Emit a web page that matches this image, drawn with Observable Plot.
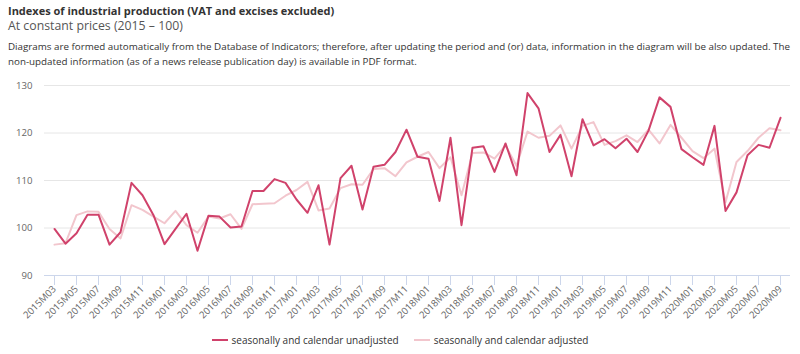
<!DOCTYPE html>
<html><head><meta charset="utf-8">
<script src="https://cdn.jsdelivr.net/npm/d3@7"></script>
<script src="https://cdn.jsdelivr.net/npm/@observablehq/plot@0.6"></script>
<style>
body{margin:0;background:#fff;font-family:"Open Sans",sans-serif;width:800px;height:354px;position:relative;overflow:hidden}
#title{position:absolute;left:8px;top:3px;font-size:11px;font-weight:700;color:#333;line-height:16px;white-space:nowrap}
#subtitle{position:absolute;left:8px;top:18px;font-size:12.3px;color:#555;line-height:16px;white-space:nowrap}
#desc{position:absolute;left:8px;top:39px;font-size:9.8px;color:#333;line-height:15px;white-space:nowrap}
#chart{position:absolute;left:0;top:75px}
#legend{position:absolute;left:0;top:332px;width:800px;display:flex;justify-content:center;gap:15px;font-size:10px;color:#333;line-height:16px}
#legend .item{display:flex;align-items:center}
#legend .sw{display:inline-block;width:16px;height:2px;margin-right:4px}
</style>
</head><body>
<div id="title">Indexes of industrial production (VAT and excises excluded)</div>
<div id="subtitle">At constant prices (2015 – 100)</div>
<div id="desc">Diagrams are formed automatically from the Database of Indicators; therefore, after updating the period and (or) data, information in the diagram will be also updated. The<br>non-updated information (as of a news release publication day) is available in PDF format.</div>
<div id="chart"></div>
<div id="legend"></div>
<script>
const months = [
  "2015M03","2015M04","2015M05","2015M06","2015M07","2015M08","2015M09","2015M10","2015M11","2015M12",
  "2016M01","2016M02","2016M03","2016M04","2016M05","2016M06","2016M07","2016M08","2016M09","2016M10","2016M11","2016M12",
  "2017M01","2017M02","2017M03","2017M04","2017M05","2017M06","2017M07","2017M08","2017M09","2017M10","2017M11","2017M12",
  "2018M01","2018M02","2018M03","2018M04","2018M05","2018M06","2018M07","2018M08","2018M09","2018M10","2018M11","2018M12",
  "2019M01","2019M02","2019M03","2019M04","2019M05","2019M06","2019M07","2019M08","2019M09","2019M10","2019M11","2019M12",
  "2020M01","2020M02","2020M03","2020M04","2020M05","2020M06","2020M07","2020M08","2020M09"
];
const unadjusted = [
  99.8, 96.7, 98.9, 102.8, 102.8, 96.5, 99.1, 109.5, 106.9, 102.7,
  96.6, 99.8, 103.0, 95.2, 102.6, 102.4, 100.1, 100.3, 107.8, 107.8, 110.3, 109.5,
  106.0, 103.2, 109.0, 96.5, 110.5, 113.1, 103.9, 112.9, 113.3, 116.0, 120.7, 115.0,
  114.6, 105.7, 119.0, 100.6, 116.9, 117.2, 111.8, 117.8, 111.1, 128.4, 125.2, 116.0,
  119.6, 110.9, 122.9, 117.4, 118.7, 116.8, 118.8, 116.0, 120.5, 127.5, 125.5, 116.6,
  114.9, 113.3, 121.5, 103.6, 107.5, 115.3, 117.5, 116.9, 123.2
];
const adjusted = [
  96.5, 96.8, 102.7, 103.5, 103.4, 99.8, 97.8, 104.8, 103.8, 102.4,
  101.0, 103.6, 100.6, 99.0, 102.4, 102.0, 102.9, 99.8, 105.0, 105.1, 105.2, 106.8,
  108.0, 109.7, 103.7, 104.1, 108.4, 109.2, 109.1, 112.4, 112.6, 110.9, 113.8, 115.0,
  116.0, 112.6, 114.9, 106.9, 115.8, 115.9, 114.6, 117.4, 113.1, 120.3, 119.0, 119.4,
  121.6, 116.7, 121.5, 122.3, 117.5, 118.3, 119.5, 118.1, 120.7, 117.8, 121.7, 119.0,
  116.2, 114.7, 116.7, 105.4, 113.9, 116.2, 119.0, 121.0, 120.6
];
const xTicks = [
  "2015M03","2015M05","2015M07","2015M09","2015M11","2016M01","2016M03","2016M05","2016M07","2016M09","2016M11",
  "2017M01","2017M03","2017M05","2017M07","2017M09","2017M11","2018M01","2018M03","2018M05","2018M07","2018M09","2018M11",
  "2019M01","2019M03","2019M05","2019M07","2019M09","2019M11","2020M01","2020M03","2020M05","2020M07","2020M09"
];
const yTicks = [90, 100, 110, 120, 130];
const seriesNames = ["seasonally and calendar unadjusted", "seasonally and calendar adjusted"];
const seriesColors = ["#d0426b", "#f2c6cd"];

const rows = months.map((m, i) => ({month: m, unadjusted: unadjusted[i], adjusted: adjusted[i]}));

const chart = Plot.plot({
  width: 800, height: 245,
  marginLeft: 44, marginRight: 10, marginTop: 10, marginBottom: 45,
  style: {fontFamily: "Open Sans, sans-serif", fontSize: "9.6px", color: "#666", background: "#fff"},
  x: {type: "point", domain: months, padding: 0.5, label: null},
  y: {domain: [90, 130], label: null},
  marks: [
    Plot.gridY(yTicks.filter(d => d > 90), {stroke: "#e6e6e6", strokeOpacity: 1}),
    Plot.ruleY([90], {stroke: "#ccd6eb"}),
    Plot.axisY(yTicks, {tickSize: 0, tickPadding: 12, fill: "#666", label: null}),
    Plot.axisX(xTicks, {tickSize: 10, stroke: "#ccd6eb", strokeOpacity: 1, tickRotate: -45, fill: "#666", tickPadding: 2, label: null}),
    Plot.line(rows, {x: "month", y: "adjusted", stroke: seriesColors[1], strokeWidth: 2}),
    Plot.line(rows, {x: "month", y: "unadjusted", stroke: seriesColors[0], strokeWidth: 2})
  ]
});
document.getElementById("chart").appendChild(chart);

const legend = document.getElementById("legend");
seriesNames.forEach((name, i) => {
  const item = document.createElement("div");
  item.className = "item";
  const sw = document.createElement("span");
  sw.className = "sw";
  sw.style.background = seriesColors[i];
  item.appendChild(sw);
  item.appendChild(document.createTextNode(name));
  legend.appendChild(item);
});
</script>
</body></html>
